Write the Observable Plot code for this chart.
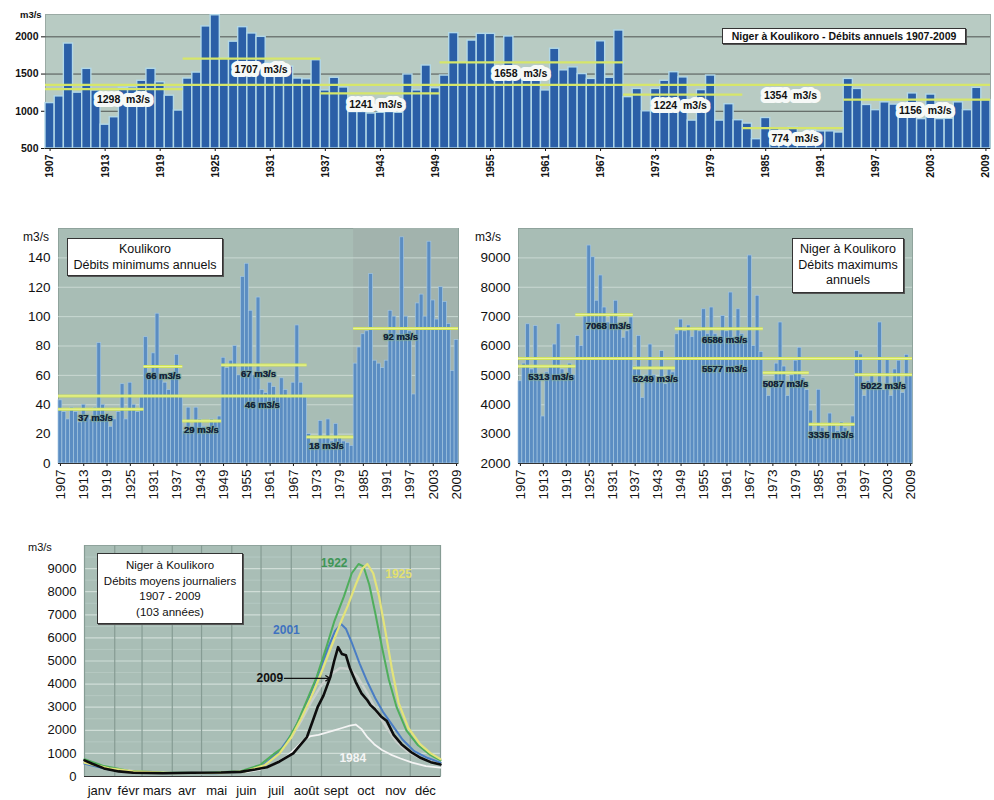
<!DOCTYPE html>
<html><head><meta charset="utf-8">
<script src="https://cdn.jsdelivr.net/npm/d3@7"></script>
<script src="https://cdn.jsdelivr.net/npm/@observablehq/plot@0.6"></script>
<style>
body{margin:0;background:#fff;font-family:"Liberation Sans",Arial,sans-serif;}
#root{position:relative;width:994px;height:800px;overflow:hidden;background:#fff}
.p{position:absolute}
.box{position:absolute;background:#fff;border:1px solid #333;text-align:center;color:#111;line-height:1.25;box-sizing:border-box;box-shadow:1px 1px 0 #555}
.unit{position:absolute;color:#111}
</style></head><body><div id="root"></div>
<script>
// ---------- DATA ----------
const firstYear = 1907;
const tickYears = [1907,1913,1919,1925,1931,1937,1943,1949,1955,1961,1967,1973,1979,1985,1991,1997,2003,2009];

// Débits annuels (m3/s) 1907-2009
const annualFlow = [
 1110,1200,1910,1250,1570,1280,820,920,1315,1320,
 1410,1570,1390,1210,1010,1440,1520,2140,2290,1710,
 1935,2130,2045,2000,1650,1640,1600,1440,1430,1686,
 1280,1450,1320,990,990,970,980,990,980,1495,
 1280,1615,1310,1480,2050,1660,1950,2040,2040,1450,
 2005,1450,1460,1450,1280,1840,1550,1590,1500,1435,
 1940,1450,2085,1190,1300,1000,1300,1410,1525,1455,
 875,1285,1480,875,1095,880,835,625,910,760,
 720,780,700,750,730,730,715,1435,1300,1085,
 1015,1120,1090,1050,1240,895,1225,895,900,1120,
 1015,1315,1150];
const annualPeriods = [
 {from:1907,to:1921,mean:1298,labelYear:1915},
 {from:1922,to:1936,mean:1707,labelYear:1930},
 {from:1937,to:1949,mean:1241,labelYear:1942.5},
 {from:1950,to:1969,mean:1658,labelYear:1958.3},
 {from:1970,to:1982,mean:1224,labelYear:1975.7},
 {from:1983,to:1993,mean:774,labelYear:1988.2},
 {from:1994,to:2009,mean:1156,labelYear:2002.4},
 {from:1907,to:2009,mean:1354,labelYear:1987.7}];

// Débits minimums annuels (m3/s)
const minFlow = [
 43,35,30,38,35,28,40,32,30,38,
 82,40,32,25,30,35,54,30,55,40,
 35,45,86,60,75,102,60,55,50,62,
 74,45,22,38,25,38,30,25,22,30,
 28,32,72,65,70,80,60,127,136,104,
 60,113,50,48,55,52,45,58,50,45,
 55,94,55,45,20,14,10,29,18,30,
 15,27,18,15,14,12,68,79,88,90,
 129,70,68,65,70,104,100,88,154,100,
 90,47,109,115,100,151,111,98,120,110,
 95,63,84];
const minPeriods = [
 {from:1907,to:1928,mean:37,labelYear:1916},
 {from:1929,to:1938,mean:66,labelYear:1933.5},
 {from:1939,to:1948,mean:29,labelYear:1943.3},
 {from:1949,to:1970,mean:67,labelYear:1958},
 {from:1971,to:1982,mean:18,labelYear:1975.5},
 {from:1983,to:2009,mean:92,labelYear:1994.6},
 {from:1907,to:1982,mean:46,labelYear:1959}];
const minShade = [{from:1983,to:2009}];

// Débits maximums annuels (m3/s)
const maxFlow = [
 4800,5400,6740,5200,6680,5000,3600,5100,5300,6050,
 6740,5200,4900,5400,5000,6340,6000,7000,9420,9020,
 7540,8400,7310,6800,7100,7540,6700,6280,6500,6970,
 5300,6340,4230,5000,6050,5000,4800,5830,4700,5200,
 5100,6400,6900,6500,6700,6300,6600,6500,7250,6400,
 7310,6400,6300,7020,6500,7820,6300,7250,6400,6200,
 9080,6000,7710,5800,4800,4300,4600,5400,6800,5300,
 4300,5000,5500,5940,4900,4500,3800,3100,4510,3200,
 2900,3700,3300,3100,3400,3200,2900,3600,5830,5710,
 4300,4800,5000,4700,6800,4500,5600,4300,5200,5500,
 4400,5700,5000];
const maxPeriods = [
 {from:1907,to:1921,mean:5313,labelYear:1915},
 {from:1922,to:1936,mean:7068,labelYear:1930},
 {from:1937,to:1947,mean:5249,labelYear:1942.3},
 {from:1948,to:1970,mean:6586,labelYear:1960.4},
 {from:1971,to:1982,mean:5087,labelYear:1976.3},
 {from:1983,to:1994,mean:3335,labelYear:1988.2},
 {from:1995,to:2009,mean:5022,labelYear:2001.9},
 {from:1907,to:2009,mean:5577,labelYear:1960.4}];

// Débits moyens journaliers : [jour de l'année, m3/s]
const months = ["janv","févr","mars","avr","mai","juin","juil","août","sept","oct","nov","déc"];
const monthStart = [0,31,59,90,120,151,181,212,243,273,304,334,365];
const hydroMean = [[0,600],[31,330],[59,200],[90,150],[120,130],[151,180],[170,300],[185,600],[200,1100],[212,1700],[222,2400],[232,3200],[242,3900],[252,4400],[262,4700],[272,4650],[280,4300],[290,3600],[300,2800],[310,2100],[320,1500],[332,1050],[345,780],[365,600]];
const hydro1922 = [[0,750],[20,450],[45,250],[80,170],[120,150],[160,230],[180,500],[195,1000],[205,1300],[218,2300],[228,3300],[238,4300],[248,5600],[256,6700],[266,7800],[274,8800],[281,9200],[286,9100],[292,8300],[298,7100],[305,5600],[312,4200],[320,3000],[330,2000],[342,1350],[354,950],[365,700]];
const hydro1925 = [[0,600],[25,350],[50,220],[90,150],[130,140],[165,220],[185,500],[200,1000],[212,1700],[222,2500],[232,3400],[242,4400],[252,5500],[262,6600],[270,7400],[278,8300],[285,9000],[290,9200],[296,8800],[302,7800],[308,6400],[315,4700],[322,3200],[332,2100],[344,1400],[355,1000],[365,750]];
const hydro2001 = [[0,550],[25,300],[50,180],[90,140],[130,130],[165,220],[185,550],[200,1100],[212,1800],[222,2600],[232,3600],[242,4700],[250,5600],[257,6300],[263,6600],[268,6400],[274,5800],[282,4900],[290,4100],[298,3400],[306,2800],[316,2200],[326,1600],[338,1100],[352,800],[365,600]];
const hydro1984 = [[165,180],[180,300],[195,550],[207,850],[216,1200],[224,1550],[232,1750],[240,1800],[248,1900],[256,2000],[264,2100],[272,2200],[278,2250],[284,2050],[290,1700],[297,1400],[305,1150],[314,950],[324,780],[336,600],[350,450],[365,380]];
const hydro2009 = [[0,700],[8,550],[20,350],[35,220],[50,160],[80,140],[110,160],[140,170],[160,200],[175,300],[187,400],[200,650],[214,1000],[222,1400],[228,1700],[234,2400],[239,3000],[245,3500],[252,4300],[256,5000],[260,5600],[264,5300],[268,5250],[272,4700],[278,4100],[284,3600],[290,3300],[293,3100],[298,2900],[304,2600],[310,2400],[317,1800],[325,1400],[335,1050],[345,800],[355,620],[365,520]];
const yearLabels = [
 {label:"1922", day:256, q:9250},
 {label:"1925", day:322, q:8750},
 {label:"2001", day:207, q:6330},
 {label:"1984", day:275, q:780}];
const arrow2009 = [{label:"2009", fromDay:205, toDay:252, q:4250, textDay:190}];

// ---------- HELPERS ----------
const root = document.getElementById("root");
const FONT = '"Liberation Sans", Arial, sans-serif';
const plain = d => String(d);
function place(node, left, topPx){const d=document.createElement("div");d.className="p";d.style.left=left+"px";d.style.top=topPx+"px";d.appendChild(node);root.appendChild(d);}
function addBox(lines, left, topPx, w, h, css){const b=document.createElement("div");b.className="box";Object.assign(b.style,{left:left+"px",top:topPx+"px",width:w+"px",height:h+"px"},css);b.innerHTML=lines.join("<br>");root.appendChild(b);}
function addUnit(left, topPx, size, weight){const u=document.createElement("div");u.className="unit";u.style.left=left+"px";u.style.top=topPx+"px";u.style.fontSize=size+"px";u.style.fontWeight=weight;u.textContent="m3/s";root.appendChild(u);}
const asRows = (arr) => arr.map((v,i)=>({year:firstYear+i, value:v}));

// ---------- TOP : débits annuels ----------
const annualRows = asRows(annualFlow);
const yMinA = 500;
const annualChart = Plot.plot({
  width:994, height:180, marginLeft:45, marginRight:4, marginTop:14, marginBottom:32,
  style:{fontFamily:FONT, fontSize:"10.5px", fontWeight:"bold", color:"#111", background:"transparent"},
  x:{type:"linear", domain:[firstYear-0.5, 2009.5], ticks:tickYears, tickFormat:plain, tickRotate:-90, tickSize:3, tickPadding:3, label:null},
  y:{domain:[yMinA,2300], ticks:[500,1000,1500,2000], tickFormat:plain, tickSize:4, tickPadding:3, label:null},
  marks:[
    Plot.frame({fill:"#b8cbc3", stroke:"#9aaaa4"}),
    Plot.ruleY([1000,1500,2000], {stroke:"#2b2b2b", strokeOpacity:0.75, strokeWidth:1}),
    Plot.rect(annualRows, {x1:d=>d.year-0.5, x2:d=>d.year+0.5, y1:()=>yMinA, y2:"value", fill:"#2b5fa7", stroke:"#b2d8e8", strokeWidth:1.4}),
    Plot.ruleY(annualPeriods, {y:"mean", x1:d=>d.from-0.5, x2:d=>d.to+0.5, stroke:"#d6e66a", strokeWidth:2.2}),
    Plot.text(annualPeriods, {x:"labelYear", y:"mean", dy:11, text:d=>`${d.mean}  m3/s`, fill:"#f6f9f7", stroke:"#f6f9f7", strokeWidth:8, strokeLinejoin:"round", fontSize:10.5, fontWeight:"bold"}),
    Plot.text(annualPeriods, {x:"labelYear", y:"mean", dy:11, text:d=>`${d.mean}  m3/s`, fill:"#111", fontSize:10.5, fontWeight:"bold"}),
    Plot.ruleY([yMinA], {stroke:"#222"})
  ]
});
place(annualChart, 0, 0);
addUnit(20, 9, 9.5, "bold");
addBox(["Niger à Koulikoro - Débits annuels 1907-2009"], 722, 28, 244, 16, {fontSize:"10.5px", fontWeight:"bold", lineHeight:"14px"});

// ---------- MIDDLE : barres min / max ----------
function barChart(rows, periods, yDomain, yTicks, opts){
  const y0 = yDomain[0];
  return Plot.plot({
    width:opts.width, height:285, marginLeft:58, marginRight:opts.marginRight, marginTop:8, marginBottom:42,
    style:{fontFamily:FONT, fontSize:"13.5px", color:"#111", background:"transparent"},
    x:{type:"linear", domain:[firstYear-0.5, 2009.5], ticks:tickYears, tickFormat:plain, tickRotate:-90, tickSize:3, tickPadding:3, label:null},
    y:{domain:yDomain, ticks:yTicks, tickFormat:plain, tickSize:0, tickPadding:8, label:null},
    marks:[
      Plot.frame({fill:"#a8bdb5", stroke:"#8fa39c"}),
      Plot.rect(opts.shade||[], {x1:d=>d.from-0.5, x2:d=>d.to+0.5, y1:()=>yDomain[0], y2:()=>yDomain[1], fill:"#a2b3ad"}),
      Plot.ruleY(yTicks, {stroke:"#c9d8d2", strokeWidth:1}),
      Plot.rect(rows, {x1:d=>d.year-0.5, x2:d=>d.year+0.5, y1:()=>y0, y2:"value", fill:"#5b8dc2", stroke:"#a3c6e2", strokeWidth:0.7}),
      Plot.ruleY(periods, {y:"mean", x1:d=>d.from-0.5, x2:d=>d.to+0.5, stroke:"#cfe35a", strokeWidth:3}),
      Plot.ruleY(periods, {y:"mean", x1:d=>d.from-0.5, x2:d=>d.to+0.5, stroke:"#eef5a0", strokeWidth:1}),
      Plot.text(periods, {x:"labelYear", y:"mean", dy:opts.dy, text:d=>`${d.mean} m3/s`, fill:"#14263c", stroke:"#7ea88c", strokeWidth:2.5, strokeOpacity:0.55, fontSize:9.5, fontWeight:"bold"}),
      Plot.text(periods, {x:"labelYear", y:"mean", dy:opts.dy, text:d=>`${d.mean} m3/s`, fill:"#14263c", fontSize:9.5, fontWeight:"bold"}),
      Plot.ruleY([y0], {stroke:"#333"})
    ]
  });
}
place(barChart(asRows(minFlow), minPeriods, [0,160], [0,20,40,60,80,100,120,140], {width:470, marginRight:12, dy:9, shade:minShade}), 0, 220);
addUnit(23, 230, 12, "normal");
addBox(["Koulikoro","Débits minimums annuels"], 67, 238, 156, 38, {fontSize:"12.5px", paddingTop:"3px"});

place(barChart(asRows(maxFlow), maxPeriods, [2000,10000], [2000,3000,4000,5000,6000,7000,8000,9000], {width:460, marginRight:8, dy:11}), 460, 220);
addUnit(475, 230, 12, "normal");
addBox(["Niger à Koulikoro","Débits maximums","annuels"], 792, 238, 112, 55, {fontSize:"12.5px", paddingTop:"3px"});

// ---------- BOTTOM : débits moyens journaliers ----------
const monthMid = months.map((m,i)=>(monthStart[i]+monthStart[i+1])/2);
const monthByMid = new Map(monthMid.map((v,i)=>[v, months[i]]));
const yearColor = {"1922":"#3f9656","1925":"#e2e070","2001":"#3f72c0","1984":"#f4f4f4"};
const line = (data, stroke, w) => Plot.line(data, {x:d=>d[0], y:d=>d[1], stroke, strokeWidth:w, curve:"linear"});
const dailyChart = Plot.plot({
  width:460, height:265, marginLeft:84, marginRight:20, marginTop:10, marginBottom:24,
  style:{fontFamily:FONT, fontSize:"13px", color:"#111", background:"transparent"},
  x:{domain:[0,365], ticks:monthMid, tickFormat:d=>monthByMid.get(d), tickSize:0, tickPadding:9, label:null},
  y:{domain:[0,10000], ticks:[0,1000,2000,3000,4000,5000,6000,7000,8000,9000], tickFormat:plain, tickSize:0, tickPadding:8, label:null},
  marks:[
    Plot.frame({fill:"#a9beb6", stroke:"#8fa39c"}),
    Plot.ruleY([500,1500,2500,3500,4500,5500,6500,7500,8500,9500], {stroke:"#b9ccc5", strokeWidth:0.8}),
    Plot.ruleY([1000,2000,3000,4000,5000,6000,7000,8000,9000], {stroke:"#d0ddd7", strokeWidth:1.2}),
    Plot.ruleX(monthStart, {stroke:"#869c94", strokeWidth:1.2}),
    line(hydroMean, "#c9cfcc", 2.5),
    line(hydro1984, "#f4f4f4", 1.8),
    line(hydro2001, "#4a7dc4", 2),
    line(hydro1922, "#4fae5c", 2),
    line(hydro1925, "#e3e37a", 2.2),
    line(hydro2009, "#0d0d0d", 2.6),
    Plot.arrow(arrow2009, {x1:"fromDay", x2:"toDay", y1:"q", y2:"q", stroke:"#111", strokeWidth:1.3, headLength:6}),
    Plot.text(arrow2009, {x:"textDay", y:"q", text:"label", fill:"#111", fontSize:12, fontWeight:"bold"}),
    Plot.text(yearLabels, {x:"day", y:"q", text:"label", fill:d=>yearColor[d.label], fontSize:12, fontWeight:"bold"}),
    Plot.ruleY([0], {stroke:"#333"})
  ]
});
place(dailyChart, 0, 535);
addUnit(28, 541, 11, "normal");
addBox(["Niger à Koulikoro","Débits moyens journaliers","1907 - 2009","(103 années)"], 97, 553, 146, 71, {fontSize:"11.5px", paddingTop:"4px", lineHeight:"15.5px"});
</script>
</body></html>
